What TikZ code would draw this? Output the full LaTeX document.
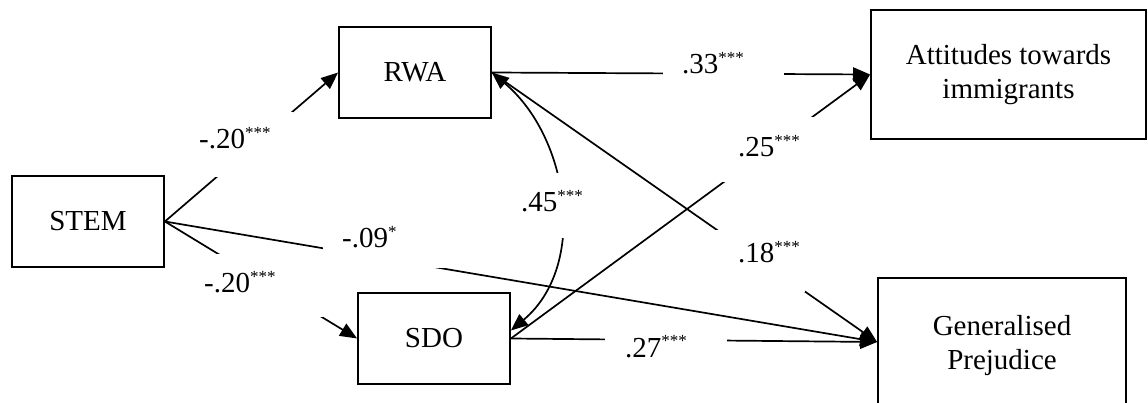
\documentclass[tikz,border=0pt]{standalone}
\usepackage{fontspec}
\setmainfont{Liberation Serif}
\usetikzlibrary{arrows.meta}
\newcommand\sigstars[1]{\raisebox{10.5pt}{\fontsize{17}{17}\selectfont #1}}
\begin{document}
\begin{tikzpicture}[x=1pt,y=-1pt,
  box/.style={draw, line width=1.8pt, inner sep=0pt, align=center, font=\fontsize{29}{34}\selectfont},
  conn/.style={line width=1.7pt, -{Triangle[length=17pt,width=14pt]}},
  cov/.style={line width=1.7pt, {Triangle[length=17pt,width=14pt]}-{Triangle[length=17pt,width=14pt]}},
  lbl/.style={anchor=base west, inner sep=0pt, font=\fontsize{29}{34}\selectfont},
  mask/.style={fill=white}]
\useasboundingbox (0,0) rectangle (1148,403);
\clip (0,0) rectangle (1148,403);

% boxes
\node[box, minimum width=152pt, minimum height=91pt] (stem) at (88,221.5) {STEM};
\node[box, minimum width=152pt, minimum height=91pt] (rwa) at (415,72.5) {RWA};
\node[box, minimum width=152pt, minimum height=91pt] (sdo) at (434,338.5) {SDO};
\node[box, minimum width=275pt, minimum height=129pt] (att) at (1008.5,74.5) {Attitudes towards\\immigrants};
\node[box, minimum width=248pt, minimum height=136pt] (gp) at (1002,346) {Generalised\\Prejudice};

% connectors
\draw[conn] (stem.east) -- (rwa.west);
\draw[conn] (stem.east) -- (sdo.west);
\draw[conn] (stem.east) -- ([yshift=4pt]gp.west);
\draw[conn] (rwa.east) -- (att.west);
\draw[conn] (rwa.east) -- ([yshift=4pt]gp.west);
\draw[conn] (sdo.east) -- (att.west);
\draw[conn] (sdo.east) -- ([yshift=4pt]gp.west);
\draw[cov] (rwa.east) to[out=-40,in=40] ([yshift=8pt]sdo.east);

% label backgrounds (gaps in the connectors)
\fill[mask] (185,112) rectangle (293,177);
\fill[mask] (172,254) rectangle (323,317);
\fill[mask] (323,205) rectangle (445,268);
\fill[mask] (663,40) rectangle (784,100);
\fill[mask] (720,117) rectangle (815,182);
\fill[mask] (715,230) rectangle (805,292);
\fill[mask] (605,319) rectangle (727,380);
\fill[mask] (515,173) rectangle (595,238);

% labels
\node[lbl] (l1) at (199,149) {-.20\sigstars{***}};
\node[lbl] (l2) at (204,293) {-.20\sigstars{***}};
\node[lbl] (l3) at (342,248) {-.09\sigstars{*}};
\node[lbl] (l4) at (682,74) {.33\sigstars{***}};
\node[lbl] (l5) at (738,157) {.25\sigstars{***}};
\node[lbl] (l6) at (738,263) {.18\sigstars{***}};
\node[lbl] (l7) at (625,357) {.27\sigstars{***}};
\node[lbl] (l8) at (521,212) {.45\sigstars{***}};
\end{tikzpicture}
\end{document}
